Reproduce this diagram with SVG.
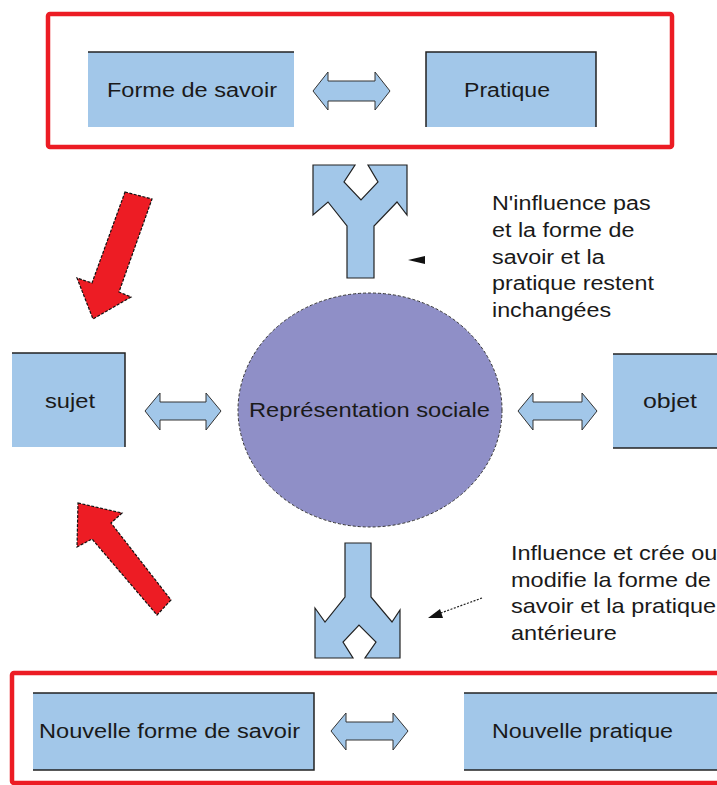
<svg xmlns="http://www.w3.org/2000/svg" width="717" height="785" viewBox="0 0 717 785">
<style>
.frame{fill:none;stroke:#ec1c24;stroke-width:4.5}
.box{fill:#a2c7e9}
.edge{stroke:#222;stroke-width:1.5;fill:none}
.dbl{fill:#a2c7e9;stroke:#333;stroke-width:1}
.yarr{fill:#a2c7e9;stroke:#222;stroke-width:1.2}
.red{fill:#ed1c24;stroke:#111;stroke-width:1.2;stroke-dasharray:3 1.5}
.lbl{font-family:"Liberation Sans",Arial,sans-serif;font-size:20px;fill:#1a1a1a}
.note{font-family:"Liberation Sans",Arial,sans-serif;font-size:21px;fill:#1a1a1a}
</style>
<rect width="717" height="785" fill="#fff"/>

<g id="frame-top"><rect class="frame" x="48" y="14" width="624" height="133" rx="2"/></g>
<g id="frame-bottom"><rect class="frame" x="12" y="673" width="720" height="110" rx="2"/></g>

<g id="forme-de-savoir">
  <rect class="box" x="88" y="52" width="206" height="75"/>
  <line class="edge" x1="88" y1="52" x2="294" y2="52"/>
  <text class="lbl" x="107" y="97" textLength="170" lengthAdjust="spacingAndGlyphs">Forme de savoir</text>
</g>
<g id="pratique">
  <rect class="box" x="426" y="52" width="170" height="75"/>
  <polyline class="edge" points="426,127 426,52 596,52 596,127"/>
  <text class="lbl" x="464" y="97" textLength="86" lengthAdjust="spacingAndGlyphs">Pratique</text>
</g>
<g id="sujet">
  <rect class="box" x="12" y="353" width="113" height="94"/>
  <polyline class="edge" points="12,353 125,353 125,447"/>
  <text class="lbl" x="45" y="408" textLength="50" lengthAdjust="spacingAndGlyphs">sujet</text>
</g>
<g id="objet">
  <rect class="box" x="613" y="354" width="110" height="94"/>
  <line class="edge" x1="613" y1="354" x2="717" y2="354"/>
  <line class="edge" x1="613" y1="448" x2="717" y2="448"/>
  <text class="lbl" x="643" y="408" textLength="54" lengthAdjust="spacingAndGlyphs">objet</text>
</g>
<g id="representation-sociale">
  <ellipse cx="370" cy="410" rx="132" ry="117" fill="#8f8fc7" stroke="#333" stroke-width="1" stroke-dasharray="3 2"/>
  <text class="lbl" x="249" y="417" textLength="241" lengthAdjust="spacingAndGlyphs">Représentation sociale</text>
</g>
<g id="nouvelle-forme-de-savoir">
  <rect class="box" x="33" y="693" width="281" height="77"/>
  <polyline class="edge" points="33,693 314,693 314,770 33,770"/>
  <text class="lbl" x="39" y="738" textLength="261" lengthAdjust="spacingAndGlyphs">Nouvelle forme de savoir</text>
</g>
<g id="nouvelle-pratique">
  <rect class="box" x="464" y="693" width="260" height="77"/>
  <line class="edge" x1="464" y1="693" x2="717" y2="693"/>
  <line class="edge" x1="464" y1="770" x2="717" y2="770"/>
  <text class="lbl" x="492" y="738" textLength="181" lengthAdjust="spacingAndGlyphs">Nouvelle pratique</text>
</g>

<g id="note-top" transform="translate(492,0) scale(1.11,1) translate(-492,0)">
  <text class="note" x="492" y="210">N'influence pas</text>
  <text class="note" x="492" y="237">et la forme de</text>
  <text class="note" x="492" y="264">savoir et la</text>
  <text class="note" x="492" y="290">pratique restent</text>
  <text class="note" x="492" y="317">inchangées</text>
</g>
<g id="note-bottom" transform="translate(511,0) scale(1.12,1) translate(-511,0)">
  <text class="note" x="511" y="560">Influence et crée ou</text>
  <text class="note" x="511" y="587">modifie la forme de</text>
  <text class="note" x="511" y="613">savoir et la pratique</text>
  <text class="note" x="511" y="640">antérieure</text>
</g>

<g id="connectors">
  <polygon class="dbl" points="313,91 328,72 328,81 375,81 375,72 390,91 375,110 375,101 328,101 328,110"/>
  <polygon class="dbl" points="145,411 160,393 160,402 206,402 206,393 221,411 206,430 206,420 160,420 160,430"/>
  <polygon class="dbl" points="518,411 533,393 533,402 582,402 582,393 597,411 582,430 582,420 533,420 533,430"/>
  <polygon class="dbl" points="331,731 346,713 346,722 393,722 393,713 408,731 393,750 393,740 346,740 346,750"/>
  <polygon class="yarr" points="313,165 355,165 344,182 361,200 378,182 368,165 407,165 407,215 397,202 374,226 374,278 347,278 347,226 328,202 313,215"/>
  <polygon class="yarr" points="345,543 371,543 371,597 392,622 400,610 400,658 365,658 376,642 359,625 343,642 353,658 315,658 315,608 325,622 345,597"/>
  <polygon class="red" points="125,192 152,199 119,292 131,297 93,319 77,278 92,283"/>
  <polygon class="red" points="78,503 122,513 111,523 171,600 157,615 92,539 77,547"/>
  <polygon points="408,260 425,256 425,264" fill="#111"/>
  <line x1="482" y1="598" x2="438" y2="614" stroke="#222" stroke-width="1.2" stroke-dasharray="2 1.5"/>
  <polygon points="428,618 440,609 443,618" fill="#111"/>
</g>
</svg>
